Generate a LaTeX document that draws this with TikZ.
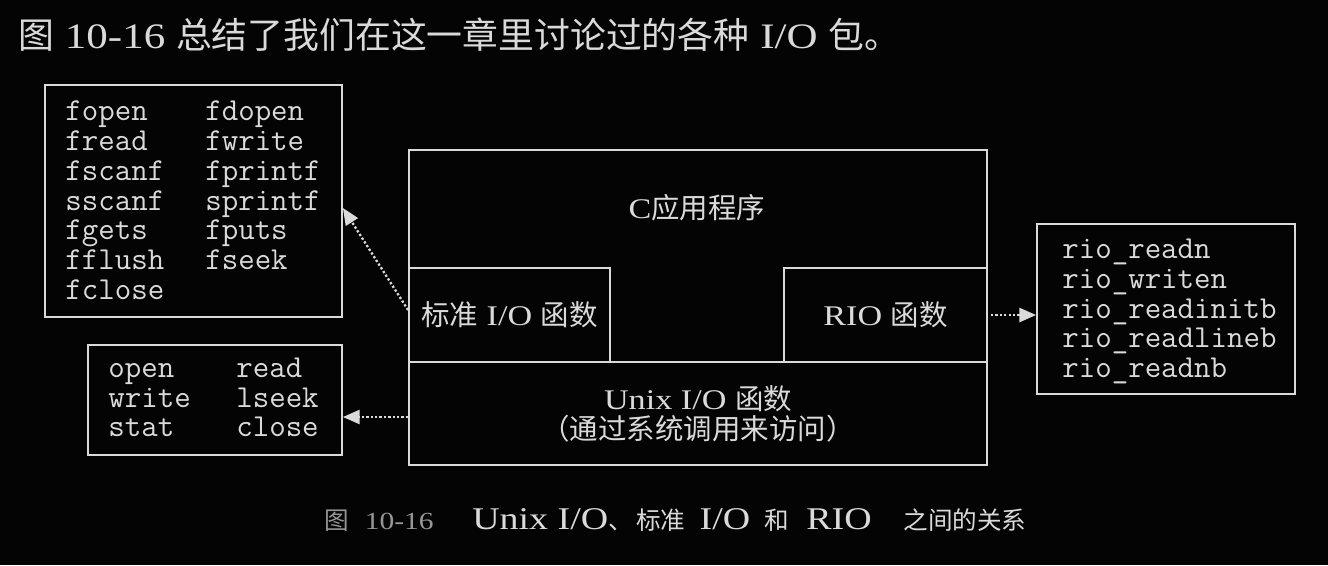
\documentclass[tikz,border=0pt]{standalone}
\usepackage{fontspec}
\setmainfont[FakeStretch=1.2]{Liberation Serif}
\newfontfamily\cjk{Noto Sans CJK SC}
\usepackage{tikz}
\usetikzlibrary{arrows.meta,positioning}
\definecolor{ioInk}{RGB}{218,218,218}
\definecolor{ioGrey}{RGB}{150,150,150}
\definecolor{ioBack}{RGB}{4,4,4}
\newcommand{\zh}[1]{{\cjk #1}}
\newcommand{\capword}[1]{{\fontsize{18}{17}\selectfont #1}}

\begin{document}
\begin{tikzpicture}[x=0.02cm,y=-0.02cm,
  frame/.style={draw=ioInk,line width=1.1pt,inner sep=0pt},
  boxtext/.style={text=ioInk,align=center,font=\fontsize{16.2}{17}\selectfont},
  codelist/.style={text=ioInk,inner sep=0pt,anchor=west,font=\ttfamily\fontsize{18.2}{17.07}\selectfont},
  dotarrow/.style={ioInk,line width=1.3pt,dash pattern=on 1.3pt off 1.2pt,-{Triangle[length=9.5pt,width=8pt]}}]
  \fill[ioBack] (0,0) rectangle (1328,565);
  % heading line
  \node[anchor=west,text=ioInk,inner sep=0pt,font=\fontsize{20.4}{24}\selectfont] (title) at (18,35)
    {\zh{图} 10-16 \zh{总结了我们在这一章里讨论过的各种} I/O \zh{包。}};
  % C program and its layers
  \node[frame,minimum width=11.56cm,minimum height=6.3cm] (app) at (698,307.5) {};
  \node[boxtext] (applbl) at (697,208) {C\zh{应用程序}};
  \node[frame,boxtext,minimum width=4.02cm,minimum height=1.88cm] (stdfun) at (509.5,315) {\zh{标准} I/O \zh{函数}};
  \node[frame,boxtext,minimum width=4.06cm,minimum height=1.88cm] (riofun) at (885.5,315) {RIO \zh{函数}};
  \node[frame,boxtext,minimum width=11.56cm,minimum height=2.06cm] (unixfun) at (698,413.5)
    {Unix I/O \zh{函数}\\\zh{（通过系统调用来访问）}};
  % function lists
  \node[frame,minimum width=5.94cm,minimum height=4.64cm] (stdio) at (193.5,201) {};
  \node[codelist] (stdionames) at ([xshift=0.42cm,yshift=-0.06cm]stdio.west) {%
    \begin{tabular}{@{}p{2.8cm}@{}l@{}}
      fopen & fdopen\\ fread & fwrite\\ fscanf & fprintf\\ sscanf & sprintf\\
      fgets & fputs\\ fflush & fseek\\ fclose &
    \end{tabular}};
  \node[frame,minimum width=5.08cm,minimum height=2.2cm] (unixlist) at (215,400) {};
  \node[codelist] (unixnames) at ([xshift=0.42cm,yshift=-0.02cm]unixlist.west) {%
    \begin{tabular}{@{}p{2.56cm}@{}l@{}}
      open & read\\ write & lseek\\ stat & close
    \end{tabular}};
  \node[frame,minimum width=5.16cm,minimum height=3.4cm] (riolist) at (1166,309) {};
  \node[codelist] (rionames) at ([xshift=0.52cm,yshift=-0.06cm]riolist.west) {%
    \begin{tabular}{@{}l@{}}
      rio\_readn\\ rio\_writen\\ rio\_readinitb\\ rio\_readlineb\\ rio\_readnb
    \end{tabular}};
  % dotted links
  \draw[dotarrow] ([yshift=0.1cm]stdfun.west) -- ([yshift=-0.14cm]stdio.east);
  \coordinate (unixtail) at ([yshift=-0.07cm]unixfun.west);
  \draw[dotarrow] (unixtail) -- (unixtail -| unixlist.east);
  \draw[dotarrow] ([xshift=0.06cm]riofun.east) -- (riofun.east -| riolist.west);
  % caption
  \node[anchor=west,inner sep=0pt,text=ioInk,font=\fontsize{14}{17}\selectfont] (caption) at (324,520)
    {\textcolor{ioGrey}{\zh{图}\hspace{9pt}10-16}\hspace{22pt}\capword{Unix I/O}\zh{、}\hspace{2pt}\zh{标准}\hspace{8pt}\capword{I/O}\hspace{8pt}\zh{和}\hspace{10pt}\capword{RIO}\hspace{18pt}\zh{之间的关系}};
\end{tikzpicture}
\end{document}
